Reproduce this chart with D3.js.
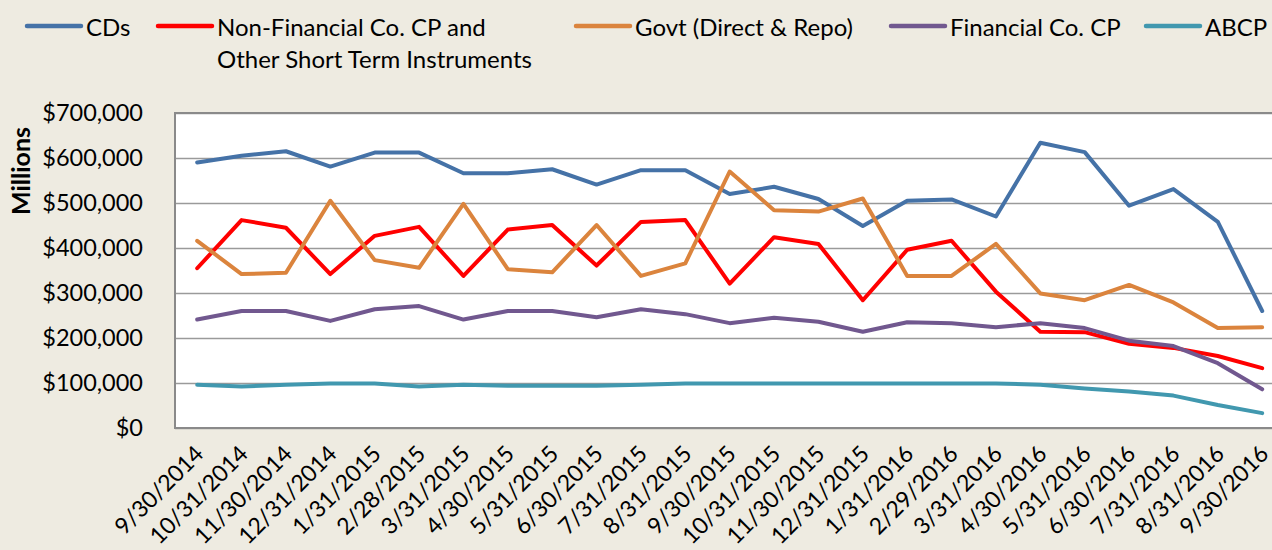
<!DOCTYPE html>
<html>
<head>
<meta charset="utf-8">
<script src="https://cdnjs.cloudflare.com/ajax/libs/d3/7.8.5/d3.min.js"></script>
<style>
  body { margin: 0; background: #eeebe1; }
  svg { display: block; font-family: Lato, "Open Sans", sans-serif; }
</style>
</head>
<body>
<div id="chart"></div>
<script>
// month-end dates on the x axis
var dates = ["9/30/2014", "10/31/2014", "11/30/2014", "12/31/2014", "1/31/2015", "2/28/2015",
  "3/31/2015", "4/30/2015", "5/31/2015", "6/30/2015", "7/31/2015", "8/31/2015", "9/30/2015",
  "10/31/2015", "11/30/2015", "12/31/2015", "1/31/2016", "2/29/2016", "3/31/2016", "4/30/2016",
  "5/31/2016", "6/30/2016", "7/31/2016", "8/31/2016", "9/30/2016"];

// values in $ millions
var cds = [590000, 605000, 615000, 581000, 612000, 612000, 566000, 566000, 575000, 541000, 573000, 573000, 520000,
  536000, 509000, 449000, 505000, 508000, 470000, 634000, 613000, 494000, 531000, 458000, 260000];
var nonFinCP = [355000, 462000, 445000, 342000, 427000, 447000, 338000, 441000, 451000, 361000, 458000, 462000, 321000,
  424000, 409000, 284000, 396000, 416000, 303000, 214000, 213000, 187000, 178000, 160000, 133000];
var govt = [416000, 342000, 345000, 505000, 373000, 356000, 498000, 353000, 346000, 451000, 338000, 366000, 570000,
  484000, 481000, 510000, 338000, 338000, 409000, 299000, 284000, 318000, 279000, 222000, 224000];
var finCP = [241000, 260000, 260000, 238000, 264000, 271000, 241000, 260000, 260000, 246000, 264000, 253000, 233000,
  245000, 236000, 214000, 235000, 233000, 224000, 233000, 222000, 194000, 182000, 144000, 86000];
var abcp = [96000, 92000, 96000, 99000, 99000, 92000, 96000, 94000, 94000, 94000, 96000, 99000, 99000,
  99000, 99000, 99000, 99000, 99000, 99000, 96000, 88000, 81000, 72000, 51000, 33000];

var seriesNames = ["CDs", "Non-Financial Co. CP and\nOther Short Term Instruments", "Govt (Direct & Repo)",
  "Financial Co. CP", "ABCP"];
var yTicks = [0, 100000, 200000, 300000, 400000, 500000, 600000, 700000];
var yTitle = "Millions";

var series = [
  { name: seriesNames[0], values: cds, color: "#4572a7" },
  { name: seriesNames[1], values: nonFinCP, color: "#ff0000" },
  { name: seriesNames[2], values: govt, color: "#db843d" },
  { name: seriesNames[3], values: finCP, color: "#71588f" },
  { name: seriesNames[4], values: abcp, color: "#4198af" }
];

var W = 1272, H = 550;
var plot = { left: 175, top: 113, bottom: 428, step: 44.375 };
plot.right = plot.left + plot.step * dates.length;

var svg = d3.select("#chart").append("svg")
    .attr("width", W)
    .attr("height", H);

svg.append("rect").attr("width", W).attr("height", H).attr("fill", "#eeebe1");

var x = d3.scalePoint()
    .domain(dates)
    .range([plot.left, plot.right])
    .padding(0.5);

var y = d3.scaleLinear()
    .domain([0, 700000])
    .range([plot.bottom, plot.top]);

// plot area
svg.append("rect")
    .attr("x", plot.left).attr("y", plot.top)
    .attr("width", plot.right - plot.left).attr("height", plot.bottom - plot.top)
    .attr("fill", "#ffffff");

// gridlines
svg.append("g")
    .attr("transform", "translate(" + plot.left + ",0)")
    .call(d3.axisLeft(y).tickValues(yTicks).tickSize(-(plot.right - plot.left)).tickFormat(""))
    .call(function(g) { g.select(".domain").remove(); })
    .selectAll("line")
    .attr("stroke", "#9a9a9a")
    .attr("stroke-width", 1.5);

// plot border (left, top, bottom)
svg.append("path")
    .attr("d", "M" + plot.right + "," + plot.top + "H" + plot.left + "V" + plot.bottom + "H" + plot.right)
    .attr("fill", "none")
    .attr("stroke", "#8a8a8a")
    .attr("stroke-width", 2);

// y axis labels
svg.append("g")
    .attr("transform", "translate(" + plot.left + ",0)")
    .call(d3.axisLeft(y).tickValues(yTicks).tickSize(0).tickPadding(32)
      .tickFormat(function(d) { return "$" + d3.format(",")(d); }))
    .call(function(g) { g.select(".domain").remove(); })
    .selectAll("text")
    .attr("fill", "#000")
    .style("font-size", "23.5px")
    .style("font-family", "Lato, sans-serif");

svg.append("text")
    .attr("transform", "translate(30,171) rotate(-90)")
    .attr("text-anchor", "middle")
    .style("font-size", "25px")
    .style("font-weight", "bold")
    .text(yTitle);

// x axis labels
svg.append("g")
    .attr("transform", "translate(0," + plot.bottom + ")")
    .call(d3.axisBottom(x).tickSize(0).tickFormat(function(d) { return d; }))
    .call(function(g) { g.select(".domain").remove(); })
    .selectAll("text")
    .attr("y", 0).attr("dy", 0)
    .attr("text-anchor", "end")
    .attr("dominant-baseline", "central")
    .attr("transform", function() { return "translate(1,21) rotate(-45)"; })
    .attr("fill", "#000")
    .style("font-size", "23px")
    .style("font-family", "Lato, sans-serif");

// lines
var line = d3.line()
    .x(function(d, i) { return x(dates[i]); })
    .y(function(d) { return y(d); });

series.forEach(function(s) {
  svg.append("path")
      .datum(s.values)
      .attr("fill", "none")
      .attr("stroke", s.color)
      .attr("stroke-width", 4)
      .attr("stroke-linejoin", "round")
      .attr("stroke-linecap", "round")
      .attr("d", line);
});

// legend
var legendX = [27, 158, 576, 891, 1146];
series.forEach(function(s, i) {
  var lx = legendX[i];
  svg.append("line")
      .attr("x1", lx).attr("x2", lx + 54)
      .attr("y1", 26).attr("y2", 26)
      .attr("stroke", s.color)
      .attr("stroke-width", 4.5)
      .attr("stroke-linecap", "round");
  var t = svg.append("text")
      .attr("x", lx + 59).attr("y", 26)
      .attr("dominant-baseline", "central")
      .style("font-size", "24px");
  s.name.split("\n").forEach(function(part, k) {
    t.append("tspan")
        .attr("x", lx + 59)
        .attr("dy", k === 0 ? 0 : 32)
        .text(part);
  });
});
</script>
</body>
</html>
